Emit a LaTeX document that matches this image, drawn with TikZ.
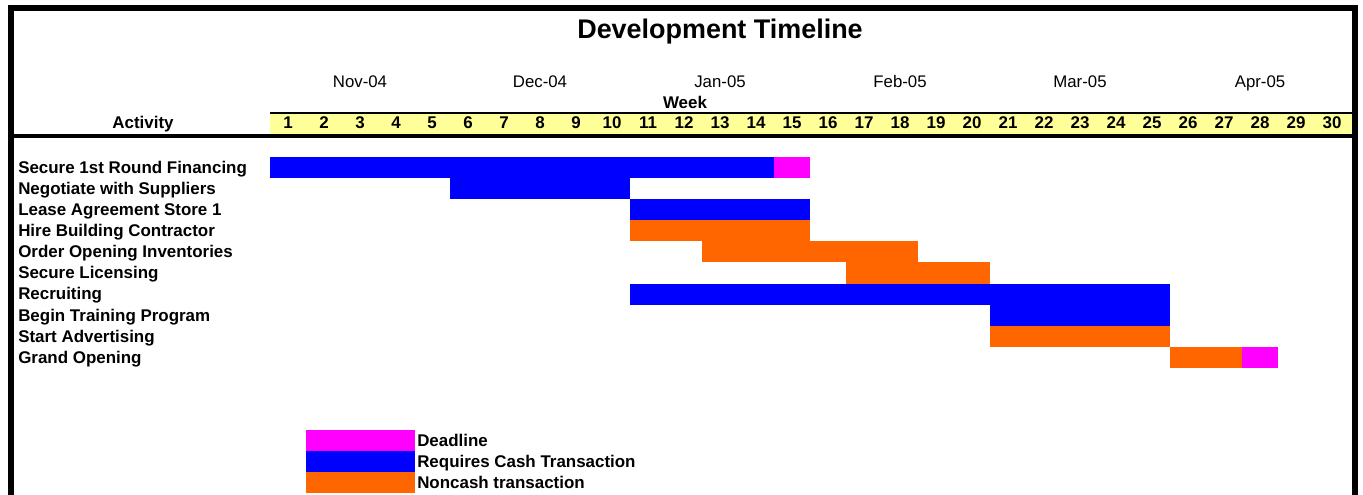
\documentclass[tikz,border=0pt]{standalone}
\usepackage{fontspec}
\setmainfont{Liberation Sans}
\definecolor{cashblue}{HTML}{0000FF}
\definecolor{noncashorange}{HTML}{FF6600}
\definecolor{duemagenta}{HTML}{FF00FF}
\definecolor{weekyellow}{HTML}{FFFF99}
\begin{document}
\begin{tikzpicture}[x=0.75pt,y=-0.75pt,
    cash/.style={fill=cashblue},
    noncash/.style={fill=noncashorange},
    due/.style={fill=duemagenta},
    lbl/.style={font=\fontsize{12.7}{15}\selectfont\bfseries,inner sep=0pt},
    month/.style={font=\fontsize{12.6}{15}\selectfont,inner sep=0pt}]
  \useasboundingbox (0,0) rectangle (1363,495);
  % frame
  \draw[line width=4.5pt] (11,495) -- (11,8) -- (1354.5,8) -- (1354.5,495);
  \node[anchor=base,inner sep=0pt,font=\fontsize{20.2}{24}\selectfont\bfseries] (title) at (720,39) {Development Timeline};
  % months and week header
  \foreach \m [count=\k from 0] in {Nov-04,Dec-04,Jan-05,Feb-05,Mar-05,Apr-05}
    \node[month,anchor=base] (month\k) at ({360+180*\k},88) {\m};
  \node[lbl,anchor=base] (week) at (685,109) {Week};
  \fill[weekyellow] (270,113) rectangle (1352,135);
  \draw[line width=1.1pt] (270,113) -- (1352,113);
  \draw[line width=3pt] (11,136) -- (1354.5,136);
  \node[lbl,anchor=base] (activity) at (143,129) {Activity};
  \foreach \w in {1,...,30}
    \node[lbl,anchor=base] (w\w) at ({270+(\w-0.5)*36},129) {\w};
  % activities
  \foreach \t [count=\i] in {Secure 1st Round Financing,Negotiate with Suppliers,Lease Agreement Store 1,Hire Building Contractor,Order Opening Inventories,Secure Licensing,Recruiting,Begin Training Program,Start Advertising,Grand Opening}
    \node[lbl,anchor=base west] (act\i) at (18,{157+(\i-1)*21.1+16.3}) {\t};
  % bars: row/first week/last week/kind
  \foreach \r/\a/\b/\kind in {1/1/14/cash,1/15/15/due,2/6/10/cash,3/11/15/cash,4/11/15/noncash,5/13/18/noncash,6/17/20/noncash,7/11/25/cash,8/21/25/cash,9/21/25/noncash,10/26/27/noncash,10/28/28/due}
    \path[\kind] ({270+(\a-1)*36},{157+(\r-1)*21.1}) rectangle ({270+\b*36},{157+\r*21.1});
  % legend
  \path[due] (306,430) rectangle (415,451);
  \path[cash] (306,451) rectangle (415,472);
  \path[noncash] (306,472) rectangle (415,493);
  \node[lbl,anchor=base west] (keydue) at (417,446) {Deadline};
  \node[lbl,anchor=base west] (keycash) at (417,467) {Requires Cash Transaction};
  \node[lbl,anchor=base west] (keynoncash) at (417,488) {Noncash transaction};
\end{tikzpicture}
\end{document}
